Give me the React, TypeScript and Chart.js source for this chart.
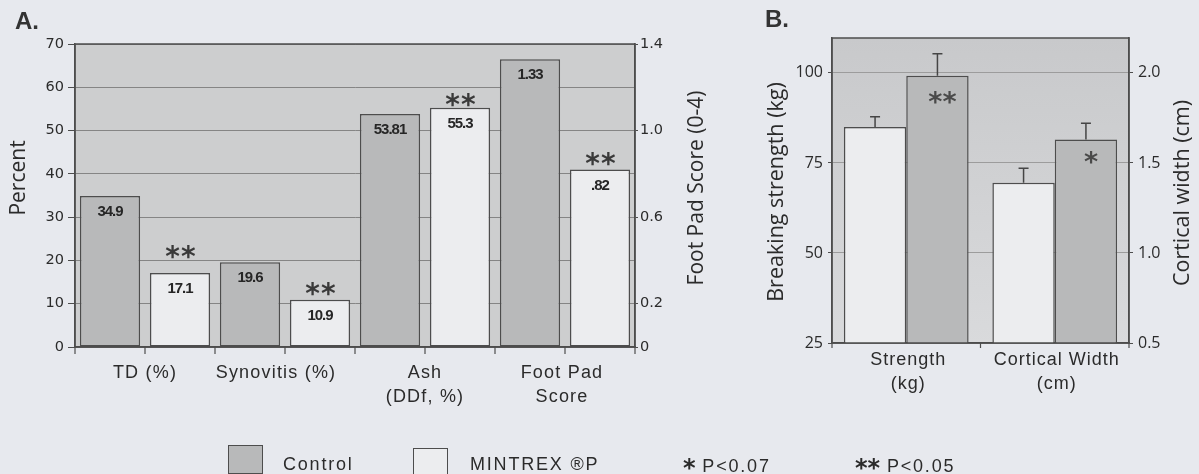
import React, { useEffect, useRef } from "react";
import { Chart, registerables } from "chart.js";
Chart.register(...registerables);

// ---------- Panel A data ----------
const categoriesA = [["TD (%)"], ["Synovitis (%)"], ["Ash", "(DDf, %)"], ["Foot Pad", "Score"]];
const controlPercent = [34.9, 19.6, 53.81, null];
const mintrexPercent = [17.1, 10.9, 55.3, null];
const controlScore = [null, null, null, 1.33];
const mintrexScore = [null, null, null, 0.82];
const controlValueLabels = ["34.9", "19.6", "53.81", "1.33"];
const mintrexValueLabels = ["17.1", "10.9", "55.3", ".82"];
const mintrexStarsA = ["**", "**", "**", "**"];
const percentTicks = [0, 10, 20, 30, 40, 50, 60, 70];
const scoreTicks = [0, 0.2, 0.6, 1.0, 1.4];

// ---------- Panel B data ----------
const categoriesB = [["Strength", "(kg)"], ["Cortical Width", "(cm)"]];
const strengthWhite = [85, null];
const strengthGray = [99.2, null];
const widthWhite = [null, 1.39];
const widthGray = [null, 1.63];
const strengthWhiteErr = [87.8, null];
const strengthGrayErr = [105.3, null];
const widthWhiteErr = [null, 1.47];
const widthGrayErr = [null, 1.72];
const grayStarsB = ["**", "*"];
const strengthTicks = [25, 50, 75, 100];
const widthTicks = [0.5, 1.0, 1.5, 2.0];

// ---------- styles ----------
const PAGE_BG = "#e7e9ee";
const PLOT_BG_A = "#cdcecf";
const CONTROL = "#b8b9ba";
const WHITE = "#ecedef";
const EDGE = "#4d4d4d";
const TEXT = "#2b2b2b";
const starGapA = [21, 11, 8, 11];
const labelShiftA = [0, -9, 0, -3];

function vText(ctx: any, text: string, x: number, y: number, font: string) {
  ctx.save();
  ctx.translate(x, y);
  ctx.rotate(-Math.PI / 2);
  ctx.font = font;
  ctx.fillStyle = TEXT;
  ctx.textAlign = "center";
  ctx.textBaseline = "middle";
  ctx.fillText(text, 0, 0);
  ctx.restore();
}

const setTicks = (vals: number[]) => (scale: any) => {
  scale.ticks = vals.map((v) => ({ value: v }));
};

const panelAPlugin = {
  id: "panelA",
  beforeDraw(chart: any) {
    const { ctx, chartArea: a } = chart;
    ctx.save();
    ctx.fillStyle = PLOT_BG_A;
    ctx.fillRect(a.left, a.top, a.right - a.left, a.bottom - a.top);
    ctx.restore();
  },
  afterDatasetsDraw(chart: any) {
    const { ctx, chartArea: a } = chart;
    ctx.save();
    chart.data.datasets.forEach((ds: any, i: number) => {
      const meta = chart.getDatasetMeta(i);
      meta.data.forEach((el: any, j: number) => {
        if (ds.data[j] == null) return;
        ctx.font = "bold 15px 'Liberation Sans'";
        (ctx as any).letterSpacing = "-1px";
        ctx.fillStyle = "#262626";
        ctx.textAlign = "center";
        ctx.textBaseline = "middle";
        ctx.fillText(ds.valueLabels[j], el.x, el.y + 16);
        if (ds.stars && ds.stars[j]) {
          ctx.font = "bold 28px 'DejaVu Sans'";
          (ctx as any).letterSpacing = "1px";
          ctx.fillStyle = "#3a3a3a";
          ctx.textBaseline = "alphabetic";
          ctx.fillText(ds.stars[j], el.x + 1, el.y - starGapA[j] + 14);
        }
      });
    });
    (ctx as any).letterSpacing = "0px";
    ctx.strokeStyle = EDGE;
    ctx.lineWidth = 1.5;
    ctx.strokeRect(a.left, a.top, a.right - a.left, a.bottom - a.top);
    const n = 8;
    const w = (a.right - a.left) / n;
    ctx.lineWidth = 1.2;
    for (let k = 0; k <= n; k++) {
      const x = a.left + k * w;
      ctx.beginPath();
      ctx.moveTo(x, a.bottom);
      ctx.lineTo(x, a.bottom + 7);
      ctx.stroke();
    }
    const xs = chart.scales.x;
    ctx.font = "18px 'Liberation Sans'";
    (ctx as any).letterSpacing = "1.2px";
    ctx.fillStyle = TEXT;
    ctx.textAlign = "center";
    ctx.textBaseline = "middle";
    categoriesA.forEach((lines, i) => {
      const x = xs.getPixelForValue(i) + labelShiftA[i];
      lines.forEach((t, l) => ctx.fillText(t, x, a.bottom + 26 + l * 24));
    });
    (ctx as any).letterSpacing = "0px";
    vText(ctx, "Percent", 19, 178, "21px 'Open Sans'");
    vText(ctx, "Foot Pad Score (0-4)", 697, 188, "21px 'Open Sans'");
    ctx.restore();
  },
};

const panelBPlugin = {
  id: "panelB",
  beforeDraw(chart: any) {
    const { ctx, chartArea: a } = chart;
    ctx.save();
    const g = ctx.createLinearGradient(0, a.top, 0, a.bottom);
    g.addColorStop(0, "#c8c9cb");
    g.addColorStop(1, "#d9dadc");
    ctx.fillStyle = g;
    ctx.fillRect(a.left, a.top, a.right - a.left, a.bottom - a.top);
    ctx.restore();
  },
  afterDatasetsDraw(chart: any) {
    const { ctx, chartArea: a } = chart;
    ctx.save();
    chart.data.datasets.forEach((ds: any, i: number) => {
      const meta = chart.getDatasetMeta(i);
      const ys = chart.scales[ds.yAxisID];
      meta.data.forEach((el: any, j: number) => {
        if (ds.data[j] == null) return;
        const top = ys.getPixelForValue(ds.errTop[j]);
        ctx.strokeStyle = "#454545";
        ctx.lineWidth = 1.5;
        ctx.beginPath();
        ctx.moveTo(el.x, el.y);
        ctx.lineTo(el.x, top);
        ctx.moveTo(el.x - 5, top);
        ctx.lineTo(el.x + 5, top);
        ctx.stroke();
        if (ds.stars && ds.stars[j]) {
          ctx.font = "bold 27px 'DejaVu Sans'";
          (ctx as any).letterSpacing = "0px";
          ctx.fillStyle = "#4a4a4a";
          ctx.textAlign = "center";
          ctx.textBaseline = "alphabetic";
          const gap = ds.stars[j].length > 1 ? 21 : 17;
          ctx.fillText(ds.stars[j], el.x + 5, el.y + gap + 14);
        }
      });
    });
    ctx.strokeStyle = EDGE;
    ctx.lineWidth = 1.5;
    ctx.strokeRect(a.left, a.top, a.right - a.left, a.bottom - a.top);
    const n = 2;
    const w = (a.right - a.left) / n;
    ctx.lineWidth = 1.2;
    for (let k = 0; k <= n; k++) {
      const x = a.left + k * w;
      ctx.beginPath();
      ctx.moveTo(x, a.bottom);
      ctx.lineTo(x, a.bottom + 5);
      ctx.stroke();
    }
    const xs = chart.scales.x;
    ctx.font = "18px 'Liberation Sans'";
    (ctx as any).letterSpacing = "1px";
    ctx.fillStyle = TEXT;
    ctx.textAlign = "center";
    ctx.textBaseline = "middle";
    categoriesB.forEach((lines, i) => {
      const x = xs.getPixelForValue(i) + 2;
      lines.forEach((t, l) => ctx.fillText(t, x, a.bottom + 17 + l * 24));
    });
    (ctx as any).letterSpacing = "0px";
    vText(ctx, "Breaking strength (kg)", 57, 192, "21.5px 'Open Sans'");
    vText(ctx, "Cortical width (cm)", 463, 193, "21.5px 'Open Sans'");
    ctx.restore();
  },
};

const barStyle = {
  borderColor: EDGE,
  borderWidth: 1.5,
  borderSkipped: false,
  categoryPercentage: 1,
};

export default function App() {
  const refA = useRef<HTMLCanvasElement>(null);
  const refB = useRef<HTMLCanvasElement>(null);

  useEffect(() => {
    const tickFontA = { family: "'DejaVu Sans'", size: 14.5 };
    const chartA = new Chart(refA.current as HTMLCanvasElement, {
      type: "bar",
      data: {
        labels: categoriesA.map((l) => l.join(" ")),
        datasets: [
          { label: "Control", data: controlPercent, yAxisID: "y", stack: "c", backgroundColor: CONTROL, valueLabels: controlValueLabels, ...barStyle, barPercentage: 0.86 } as any,
          { label: "MINTREX ®P", data: mintrexPercent, yAxisID: "y", stack: "m", backgroundColor: WHITE, valueLabels: mintrexValueLabels, stars: mintrexStarsA, ...barStyle, barPercentage: 0.86 } as any,
          { label: "Control", data: controlScore, yAxisID: "y1", stack: "c", backgroundColor: CONTROL, valueLabels: controlValueLabels, ...barStyle, barPercentage: 0.86 } as any,
          { label: "MINTREX ®P", data: mintrexScore, yAxisID: "y1", stack: "m", backgroundColor: WHITE, valueLabels: mintrexValueLabels, stars: mintrexStarsA, ...barStyle, barPercentage: 0.86 } as any,
        ],
      },
      options: {
        animation: false,
        responsive: true,
        maintainAspectRatio: false,
        events: [],
        layout: { padding: { top: 44, bottom: 67, left: 0, right: 0 } },
        plugins: { legend: { display: false }, tooltip: { enabled: false } },
        scales: {
          x: {
            type: "category",
            grid: { display: false },
            border: { display: true, color: EDGE, width: 1.5 },
            ticks: { display: false },
            afterFit: (s: any) => { s.height = 60; },
          },
          y: {
            position: "left",
            min: 0,
            max: 70,
            stacked: false,
            afterBuildTicks: setTicks(percentTicks),
            grid: { color: "#858585", lineWidth: 1, tickColor: EDGE, tickLength: 7 },
            border: { display: true, color: EDGE, width: 1.5 },
            ticks: { font: tickFontA, color: TEXT, padding: 4 },
            afterFit: (s: any) => { s.width = 75; },
          },
          y1: {
            position: "right",
            min: 0,
            max: 1.4,
            stacked: false,
            afterBuildTicks: setTicks(scoreTicks),
            grid: { drawOnChartArea: false, tickColor: EDGE, tickLength: 3 },
            border: { display: true, color: EDGE, width: 1.5 },
            ticks: { font: tickFontA, color: TEXT, padding: 2, callback: (v: any) => (v === 0 ? "0" : Number(v).toFixed(1)) },
            afterFit: (s: any) => { s.width = 85; },
          },
        },
      } as any,
      plugins: [panelAPlugin],
    });

    const tickFontB = { family: "'Open Sans'", size: 16 };
    const chartB = new Chart(refB.current as HTMLCanvasElement, {
      type: "bar",
      data: {
        labels: categoriesB.map((l) => l.join(" ")),
        datasets: [
          { label: "Strength white", data: strengthWhite, errTop: strengthWhiteErr, yAxisID: "y", stack: "w", backgroundColor: WHITE, ...barStyle, categoryPercentage: 0.84, barPercentage: 1 } as any,
          { label: "Strength gray", data: strengthGray, errTop: strengthGrayErr, stars: grayStarsB, yAxisID: "y", stack: "g", backgroundColor: CONTROL, ...barStyle, categoryPercentage: 0.84, barPercentage: 1 } as any,
          { label: "Width white", data: widthWhite, errTop: widthWhiteErr, yAxisID: "y1", stack: "w", backgroundColor: WHITE, ...barStyle, categoryPercentage: 0.84, barPercentage: 1 } as any,
          { label: "Width gray", data: widthGray, errTop: widthGrayErr, stars: grayStarsB, yAxisID: "y1", stack: "g", backgroundColor: CONTROL, ...barStyle, categoryPercentage: 0.84, barPercentage: 1 } as any,
        ],
      },
      options: {
        animation: false,
        responsive: true,
        maintainAspectRatio: false,
        events: [],
        layout: { padding: { top: 38, bottom: 71, left: 0, right: 0 } },
        plugins: { legend: { display: false }, tooltip: { enabled: false } },
        scales: {
          x: {
            type: "category",
            grid: { display: false },
            border: { display: true, color: EDGE, width: 1.5 },
            ticks: { display: false },
            afterFit: (s: any) => { s.height = 60; },
          },
          y: {
            position: "left",
            min: 25,
            max: 109.7,
            stacked: false,
            afterBuildTicks: setTicks(strengthTicks),
            grid: { color: "#9c9c9c", lineWidth: 1, tickColor: EDGE, tickLength: 4 },
            border: { display: true, color: EDGE, width: 1.5 },
            ticks: { font: tickFontB, color: TEXT, padding: 5 },
            afterFit: (s: any) => { s.width = 112; },
          },
          y1: {
            position: "right",
            min: 0.5,
            max: 2.194,
            stacked: false,
            afterBuildTicks: setTicks(widthTicks),
            grid: { drawOnChartArea: false, tickColor: EDGE, tickLength: 4 },
            border: { display: true, color: EDGE, width: 1.5 },
            ticks: { font: tickFontB, color: TEXT, padding: 5, callback: (v: any) => Number(v).toFixed(1) },
            afterFit: (s: any) => { s.width = 70; },
          },
        },
      } as any,
      plugins: [panelBPlugin],
    });

    return () => {
      chartA.destroy();
      chartB.destroy();
    };
  }, []);

  const legendText: React.CSSProperties = {
    position: "absolute",
    top: 455,
    fontFamily: "'Liberation Sans', Arial, sans-serif",
    fontSize: 18,
    lineHeight: "18px",
    letterSpacing: "1.8px",
    color: TEXT,
    whiteSpace: "nowrap",
  };
  const star: React.CSSProperties = { fontFamily: "'DejaVu Sans'", fontWeight: "bold", fontSize: 24, letterSpacing: "0px", position: "relative", top: 4 };
  const swatch = (left: number, top: number, bg: string): React.CSSProperties => ({
    position: "absolute",
    left,
    top,
    width: 33,
    height: 27,
    background: bg,
    border: `1.5px solid ${EDGE}`,
  });
  const panelLabel: React.CSSProperties = {
    position: "absolute",
    fontFamily: "'Liberation Sans', Arial, sans-serif",
    fontSize: 24,
    fontWeight: "bold",
    color: "#333",
    lineHeight: "24px",
  };

  return (
    <div style={{ position: "fixed", left: 0, top: 0, width: 1199, height: 474, background: PAGE_BG, overflow: "hidden" }}>
      <div style={{ position: "absolute", left: 0, top: 0, width: 720, height: 474 }}>
        <canvas ref={refA} />
      </div>
      <div style={{ position: "absolute", left: 720, top: 0, width: 479, height: 474 }}>
        <canvas ref={refB} />
      </div>
      <div style={{ ...panelLabel, left: 15, top: 9 }}>A.</div>
      <div style={{ ...panelLabel, left: 765, top: 7 }}>B.</div>
      <div style={swatch(228, 445, CONTROL)} />
      <div style={{ ...legendText, left: 283 }}>Control</div>
      <div style={swatch(413, 448, WHITE)} />
      <div style={{ ...legendText, left: 470 }}>MINTREX ®P</div>
      <div style={{ ...legendText, left: 683 }}><span style={star}>*</span> P&lt;0.07</div>
      <div style={{ ...legendText, left: 855 }}><span style={star}>**</span> P&lt;0.05</div>
    </div>
  );
}
